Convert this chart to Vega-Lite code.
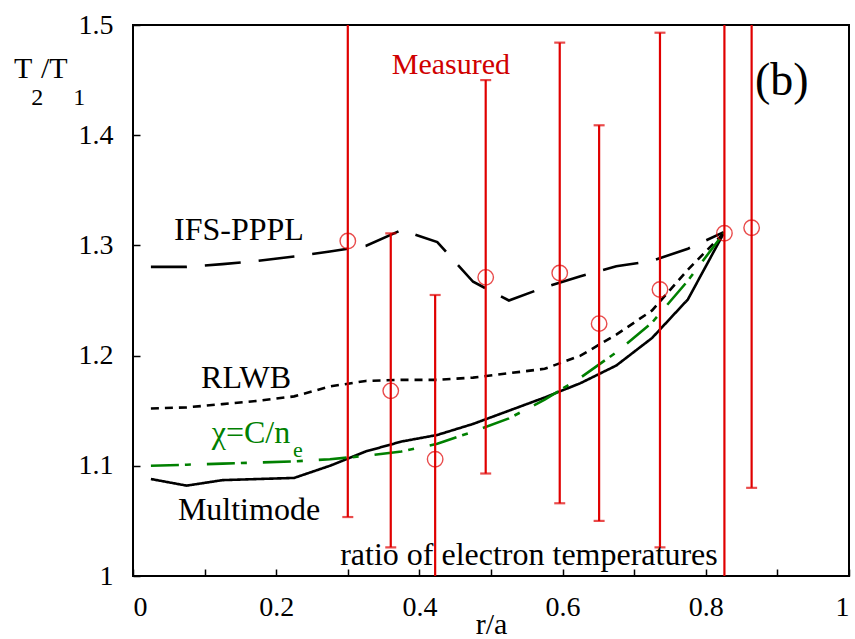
{
  "$schema": "https://vega.github.io/schema/vega-lite/v6.json",
  "width": 716,
  "height": 551,
  "autosize": "none",
  "padding": {"left": 133, "top": 25, "right": 6, "bottom": 63},
  "config": {
    "view": {"stroke": "black", "strokeWidth": 2},
    "axis": {
      "grid": false,
      "domain": false,
      "tickColor": "black",
      "tickWidth": 1.5,
      "tickSize": -7,
      "labelFont": "'Liberation Serif', 'Times New Roman', serif",
      "labelFontSize": 28,
      "labelColor": "black",
      "titleFont": "'Liberation Serif', 'Times New Roman', serif",
      "titleFontSize": 30,
      "titleFontWeight": "normal",
      "titleColor": "black"
    },
    "text": {"font": "'Liberation Serif', 'Times New Roman', serif"}
  },
  "resolve": {"axis": {"x": "independent", "y": "independent"}},
  "layer": [
    {
      "data": {"name": "lines", "values": [
        {"series": "IFS-PPPL", "x": 0.025, "y": 1.2805},
        {"series": "IFS-PPPL", "x": 0.075, "y": 1.2805},
        {"series": "IFS-PPPL", "x": 0.125, "y": 1.2830},
        {"series": "IFS-PPPL", "x": 0.175, "y": 1.2860},
        {"series": "IFS-PPPL", "x": 0.225, "y": 1.2900},
        {"series": "IFS-PPPL", "x": 0.275, "y": 1.2945},
        {"series": "IFS-PPPL", "x": 0.325, "y": 1.2995},
        {"series": "IFS-PPPL", "x": 0.375, "y": 1.3140},
        {"series": "IFS-PPPL", "x": 0.425, "y": 1.3030},
        {"series": "IFS-PPPL", "x": 0.475, "y": 1.2670},
        {"series": "IFS-PPPL", "x": 0.525, "y": 1.2500},
        {"series": "IFS-PPPL", "x": 0.575, "y": 1.2620},
        {"series": "IFS-PPPL", "x": 0.625, "y": 1.2720},
        {"series": "IFS-PPPL", "x": 0.675, "y": 1.2810},
        {"series": "IFS-PPPL", "x": 0.725, "y": 1.2860},
        {"series": "IFS-PPPL", "x": 0.775, "y": 1.2970},
        {"series": "IFS-PPPL", "x": 0.825, "y": 1.3120},
        {"series": "RLWB", "x": 0.025, "y": 1.152},
        {"series": "RLWB", "x": 0.075, "y": 1.153},
        {"series": "RLWB", "x": 0.125, "y": 1.156},
        {"series": "RLWB", "x": 0.175, "y": 1.159},
        {"series": "RLWB", "x": 0.225, "y": 1.163},
        {"series": "RLWB", "x": 0.275, "y": 1.172},
        {"series": "RLWB", "x": 0.325, "y": 1.177},
        {"series": "RLWB", "x": 0.375, "y": 1.178},
        {"series": "RLWB", "x": 0.425, "y": 1.178},
        {"series": "RLWB", "x": 0.475, "y": 1.180},
        {"series": "RLWB", "x": 0.525, "y": 1.184},
        {"series": "RLWB", "x": 0.575, "y": 1.188},
        {"series": "RLWB", "x": 0.625, "y": 1.200},
        {"series": "RLWB", "x": 0.675, "y": 1.219},
        {"series": "RLWB", "x": 0.725, "y": 1.241},
        {"series": "RLWB", "x": 0.775, "y": 1.278},
        {"series": "RLWB", "x": 0.825, "y": 1.311},
        {"series": "Multimode", "x": 0.025, "y": 1.088},
        {"series": "Multimode", "x": 0.075, "y": 1.082},
        {"series": "Multimode", "x": 0.125, "y": 1.087},
        {"series": "Multimode", "x": 0.175, "y": 1.088},
        {"series": "Multimode", "x": 0.225, "y": 1.089},
        {"series": "Multimode", "x": 0.275, "y": 1.100},
        {"series": "Multimode", "x": 0.325, "y": 1.113},
        {"series": "Multimode", "x": 0.375, "y": 1.122},
        {"series": "Multimode", "x": 0.425, "y": 1.128},
        {"series": "Multimode", "x": 0.475, "y": 1.138},
        {"series": "Multimode", "x": 0.525, "y": 1.150},
        {"series": "Multimode", "x": 0.575, "y": 1.162},
        {"series": "Multimode", "x": 0.625, "y": 1.175},
        {"series": "Multimode", "x": 0.675, "y": 1.191},
        {"series": "Multimode", "x": 0.725, "y": 1.216},
        {"series": "Multimode", "x": 0.775, "y": 1.251},
        {"series": "Multimode", "x": 0.825, "y": 1.311},
        {"series": "chi", "x": 0.025, "y": 1.100},
        {"series": "chi", "x": 0.075, "y": 1.101},
        {"series": "chi", "x": 0.125, "y": 1.102},
        {"series": "chi", "x": 0.175, "y": 1.103},
        {"series": "chi", "x": 0.225, "y": 1.104},
        {"series": "chi", "x": 0.275, "y": 1.106},
        {"series": "chi", "x": 0.325, "y": 1.109},
        {"series": "chi", "x": 0.375, "y": 1.113},
        {"series": "chi", "x": 0.425, "y": 1.120},
        {"series": "chi", "x": 0.475, "y": 1.131},
        {"series": "chi", "x": 0.525, "y": 1.143},
        {"series": "chi", "x": 0.575, "y": 1.160},
        {"series": "chi", "x": 0.625, "y": 1.180},
        {"series": "chi", "x": 0.675, "y": 1.203},
        {"series": "chi", "x": 0.725, "y": 1.230},
        {"series": "chi", "x": 0.775, "y": 1.268},
        {"series": "chi", "x": 0.825, "y": 1.311}
      ]},
      "mark": {"type": "line", "strokeWidth": 2.6, "clip": true},
      "encoding": {
        "x": {"field": "x", "type": "quantitative",
              "scale": {"domain": [0, 1], "nice": false, "zero": false},
              "axis": {"orient": "bottom", "title": "r/a",
                       "values": [0, 0.1, 0.2, 0.3, 0.4, 0.5, 0.6, 0.7, 0.8, 0.9, 1],
                       "labelExpr": "round(datum.value*10)%2==0 ? format(datum.value,'~g') : ''",
                       "labelPadding": 24, "titleBaseline": "alphabetic", "titleY": 57}},
        "y": {"field": "y", "type": "quantitative",
              "scale": {"domain": [1, 1.5], "nice": false, "zero": false},
              "axis": {"orient": "left", "title": null,
                       "values": [1, 1.1, 1.2, 1.3, 1.4, 1.5], "format": "~g",
                       "labelPadding": 27}},
        "detail": {"field": "series"},
        "color": {"field": "series", "type": "nominal", "legend": null,
                  "scale": {"domain": ["IFS-PPPL", "RLWB", "Multimode", "chi"],
                            "range": ["black", "black", "black", "#008000"]}},
        "strokeDash": {"field": "series", "type": "nominal", "legend": null,
                       "scale": {"domain": ["IFS-PPPL", "RLWB", "Multimode", "chi"],
                                 "range": [[36, 18], [8, 6], [1, 0], [28, 6, 6, 16]]}}
      }
    },
    {
      "data": {"name": "meas", "values": [
        {"x": 0.300, "y": 1.304, "lo": 1.0535, "hi": 1.60},
        {"x": 0.360, "y": 1.168, "lo": 1.026, "hi": 1.311},
        {"x": 0.422, "y": 1.106, "lo": 0.90, "hi": 1.255},
        {"x": 0.4926, "y": 1.271, "lo": 1.093, "hi": 1.450},
        {"x": 0.596, "y": 1.275, "lo": 1.066, "hi": 1.484},
        {"x": 0.651, "y": 1.229, "lo": 1.050, "hi": 1.409},
        {"x": 0.736, "y": 1.260, "lo": 1.026, "hi": 1.493},
        {"x": 0.826, "y": 1.311, "lo": 0.90, "hi": 1.60},
        {"x": 0.864, "y": 1.316, "lo": 1.080, "hi": 1.60}
      ]},
      "layer": [
        {
          "mark": {"type": "rule", "color": "#e00000", "strokeWidth": 2.2, "clip": true},
          "encoding": {
            "x": {"field": "x", "type": "quantitative",
                  "axis": {"orient": "top", "labels": false, "title": null,
                           "values": [0, 0.1, 0.2, 0.3, 0.4, 0.5, 0.6, 0.7, 0.8, 0.9, 1]}},
            "y": {"field": "lo", "type": "quantitative",
                  "axis": {"orient": "right", "labels": false, "title": null,
                           "values": [1, 1.1, 1.2, 1.3, 1.4, 1.5]}},
            "y2": {"field": "hi"}
          }
        },
        {
          "mark": {"type": "tick", "orient": "horizontal", "color": "#e00000", "size": 11, "thickness": 2.2, "clip": true},
          "encoding": {
            "x": {"field": "x", "type": "quantitative", "axis": null},
            "y": {"field": "lo", "type": "quantitative", "axis": null}
          }
        },
        {
          "mark": {"type": "tick", "orient": "horizontal", "color": "#e00000", "size": 11, "thickness": 2.2, "clip": true},
          "encoding": {
            "x": {"field": "x", "type": "quantitative", "axis": null},
            "y": {"field": "hi", "type": "quantitative", "axis": null}
          }
        },
        {
          "mark": {"type": "point", "shape": "circle", "filled": false, "color": "#e00000", "size": 240, "strokeWidth": 1.4},
          "encoding": {
            "x": {"field": "x", "type": "quantitative", "axis": null},
            "y": {"field": "y", "type": "quantitative", "axis": null}
          }
        }
      ]
    },
    {
      "data": {"values": [
        {"label": "IFS-PPPL", "x": 0.148, "y": 1.305},
        {"label": "RLWB", "x": 0.158, "y": 1.1706},
        {"label": "Multimode", "x": 0.162, "y": 1.0508},
        {"label": "ratio of electron temperatures", "x": 0.553, "y": 1.010}
      ]},
      "mark": {"type": "text", "fontSize": 32, "color": "black", "align": "center", "baseline": "alphabetic"},
      "encoding": {
        "x": {"field": "x", "type": "quantitative", "axis": null},
        "y": {"field": "y", "type": "quantitative", "axis": null},
        "text": {"field": "label"}
      }
    },
    {
      "data": {"values": [
        {"label": "T", "x": -0.1662, "y": 1.452},
        {"label": "/T", "x": -0.1285, "y": 1.452}
      ]},
      "mark": {"type": "text", "fontSize": 30, "color": "black", "align": "left", "baseline": "alphabetic", "clip": false},
      "encoding": {
        "x": {"field": "x", "type": "quantitative", "axis": null},
        "y": {"field": "y", "type": "quantitative", "axis": null},
        "text": {"field": "label"}
      }
    },
    {
      "data": {"values": [
        {"label": "2", "x": -0.1420, "y": 1.4274},
        {"label": "1", "x": -0.0835, "y": 1.4274}
      ]},
      "mark": {"type": "text", "fontSize": 24, "color": "black", "align": "left", "baseline": "alphabetic", "clip": false},
      "encoding": {
        "x": {"field": "x", "type": "quantitative", "axis": null},
        "y": {"field": "y", "type": "quantitative", "axis": null},
        "text": {"field": "label"}
      }
    },
    {
      "data": {"values": [{"label": "Measured", "x": 0.444, "y": 1.4555}]},
      "mark": {"type": "text", "fontSize": 30, "color": "#d00000", "align": "center", "baseline": "alphabetic"},
      "encoding": {
        "x": {"field": "x", "type": "quantitative", "axis": null},
        "y": {"field": "y", "type": "quantitative", "axis": null},
        "text": {"field": "label"}
      }
    },
    {
      "data": {"values": [{"label": "(b)", "x": 0.906, "y": 1.4365}]},
      "mark": {"type": "text", "fontSize": 46, "color": "black", "align": "center", "baseline": "alphabetic"},
      "encoding": {
        "x": {"field": "x", "type": "quantitative", "axis": null},
        "y": {"field": "y", "type": "quantitative", "axis": null},
        "text": {"field": "label"}
      }
    },
    {
      "data": {"values": [{"label": "χ=C/n", "x": 0.110, "y": 1.1207}]},
      "mark": {"type": "text", "fontSize": 32, "color": "#008000", "align": "left", "baseline": "alphabetic"},
      "encoding": {
        "x": {"field": "x", "type": "quantitative", "axis": null},
        "y": {"field": "y", "type": "quantitative", "axis": null},
        "text": {"field": "label"}
      }
    },
    {
      "data": {"values": [{"label": "e", "x": 0.2235, "y": 1.108}]},
      "mark": {"type": "text", "fontSize": 22, "color": "#008000", "align": "left", "baseline": "alphabetic"},
      "encoding": {
        "x": {"field": "x", "type": "quantitative", "axis": null},
        "y": {"field": "y", "type": "quantitative", "axis": null},
        "text": {"field": "label"}
      }
    }
  ]
}
